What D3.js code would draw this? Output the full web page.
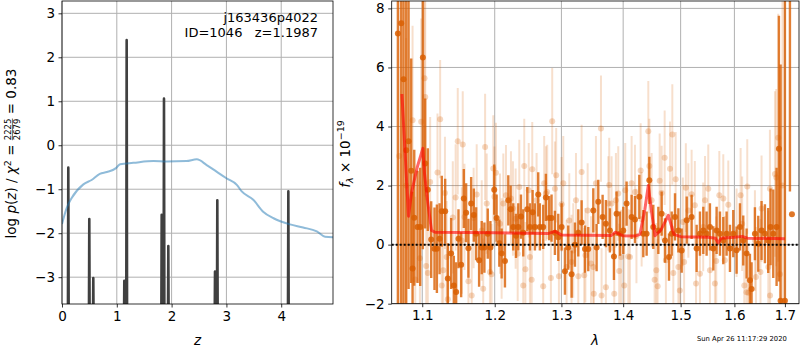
<!DOCTYPE html>
<html>
<head>
<meta charset="utf-8">
<script src="https://cdn.jsdelivr.net/npm/d3@7"></script>
<style>
  body { margin: 0; background: #fff; }
  svg { display: block; font-family: "DejaVu Sans", sans-serif; }
</style>
</head>
<body>
<svg id="chart" width="800" height="350"></svg>
<script>
// ---- left panel: log p(z) spikes and chi2 curve ----
const peakZ = [0.115, 0.498, 0.571, 1.137, 1.18, 1.819, 1.861, 1.94, 2.792, 2.834, 4.13];
const peakLogP = [-0.51, -1.68, -3.02, -3.08, 2.39, -1.58, 1.06, -2.29, -2.87, -1.25, -1.05];

const chiZ = [0, 0.085, 0.177, 0.39, 0.54, 0.69, 0.82, 0.985, 1.06, 1.30, 1.67, 1.91, 2.27, 2.46,
  2.64, 2.82, 3.0, 3.19, 3.28, 3.49, 3.67, 3.86, 4.16, 4.40, 4.65, 4.80, 4.95];
const chiLog = [-1.79, -1.43, -1.2, -0.89, -0.79, -0.65, -0.61, -0.52, -0.43, -0.40, -0.36, -0.37,
  -0.36, -0.32, -0.45, -0.60, -0.75, -0.90, -1.05, -1.24, -1.51, -1.66, -1.80, -1.87, -1.96, -2.08, -2.09];

const zTicks = [0, 1, 2, 3, 4];
const logTicks = [-3, -2, -1, 0, 1, 2, 3];

// ---- right panel: spectrum ----
const darkLam = [1.0683, 1.0726, 1.0756, 1.0790, 1.0821, 1.0855, 1.0873, 1.0895, 1.0938, 1.0973,
  1.1008, 1.1039, 1.1074, 1.1119, 1.1163, 1.1195, 1.1231, 1.1261, 1.1307, 1.1343,
  1.1388, 1.1425, 1.1457, 1.1489, 1.1526, 1.1563, 1.1595, 1.1627, 1.1665, 1.1702,
  1.1735, 1.1777, 1.1814, 1.1852, 1.1900, 1.1938,
  1.1993, 1.2027, 1.2066, 1.2100, 1.2148, 1.2197, 1.2231, 1.2270, 1.2310, 1.2344,
  1.2384, 1.2418, 1.2478, 1.2518, 1.2558, 1.2593, 1.2643, 1.2668, 1.2719, 1.2760,
  1.2811, 1.2847, 1.2899, 1.2951, 1.3003, 1.3055, 1.3107, 1.3160, 1.3213, 1.3266,
  1.3319, 1.3373, 1.3426,
  1.3507, 1.3561, 1.3588, 1.3659, 1.3713, 1.3779, 1.3846, 1.3890, 1.3946, 1.4002,
  1.4058, 1.4143, 1.4200, 1.4274, 1.4343, 1.4400, 1.4447, 1.4516, 1.4604, 1.4662,
  1.4721, 1.4792, 1.4840, 1.4899, 1.4959, 1.5019, 1.5110,
  1.5199, 1.5291, 1.5352, 1.5414, 1.5475, 1.5537, 1.5600, 1.5662, 1.5725, 1.5788,
  1.5851, 1.5915, 1.5978, 1.6042, 1.6107, 1.6171, 1.6236, 1.6301, 1.6333, 1.6399,
  1.6465, 1.6530, 1.6597, 1.6663, 1.6710, 1.6764, 1.6831, 1.6878, 1.6912, 1.7000,
  1.7103, 1.7144];
const darkFlux = [7.15, 7.5, 5.6, 3.2, 3.5, 2.5, -0.81, 0.91, 0.6, 0.6,
  6.34, 2.75, 1.86, 0.17, -0.14, -0.14, 0.2, 1.13, 1.13, -1.15,
  -0.3, -1.38, -1.6, 0.2, -0.68, 1.56, 1.08, -0.12, 1.39, 1.0,
  0.37, -0.53, -0.1, -0.1, 0.37, -0.1,
  1.86, 0.9, 0.05, -0.3, -0.55, 1.5, 1.2, 0.6, 0.3, 0.6,
  0.95, 0.4, 1.2, 0.6, 1.1, 0.6, 1.7, 0.6, 0.6, 1.6,
  0.9, 0.9, 0.4, 0.25, 0.6, -0.9, -0.1, -1.0, 0.0, 0.4,
  0.75, -0.15, -0.15,
  1.16, -0.1, 1.45, 0.94, 0.71, 0.48, -0.4, 1.05, 0.37, 0.48,
  1.39, 0.94, 0.85, 1.62, 0.37, 0.37, 2.18, 0.6, 0.48, 1.05,
  0.14, -0.42, 0.37, 0.94, 0.48, -0.2, 0.83,
  0.94, -0.13, 0.37, 0.48, 0.37, 0.6, -0.13, 0.48, 0.37, 0.14,
  0.37, -0.13, 0.37, -0.19, 0.6, 0.14, -0.3, -1.21, -1.5, 0.37,
  0.03, 0.48, 0.37, 0.14, 0.6, 0.37, 0.6, 3.25, -1.9, -1.9,
  10.0, 1.03];
const darkErr = [12, 12, 9, 6, 5, 3.8, 2.6, 2.3, 1.9, 2.0,
  6.5, 2.2, 1.4, 1.3, 1.4, 1.5, 1.2, 1.2, 1.1, 1.2,
  1.2, 1.0, 1.0, 1.0, 1.1, 1.0, 1.0, 1.0, 0.9, 0.9,
  0.9, 0.9, 0.9, 0.85, 0.85, 0.9,
  0.85, 0.8, 0.8, 0.85, 0.9, 0.85, 0.8, 0.8, 0.75, 0.8,
  0.75, 0.8, 0.75, 0.8, 0.75, 0.8, 0.75, 0.8, 0.75, 0.8,
  0.75, 0.8, 0.75, 0.8, 0.8, 0.8, 0.75, 0.8, 0.75, 0.8,
  0.75, 0.8, 0.75,
  0.75, 0.8, 0.75, 0.75, 0.8, 0.75, 0.8, 0.75, 0.75, 0.8,
  0.75, 0.75, 0.8, 0.75, 0.8, 0.75, 0.8, 0.75, 0.8, 0.75,
  0.75, 0.8, 0.75, 0.8, 0.75, 0.75, 0.8,
  0.75, 0.8, 0.75, 0.8, 0.75, 0.8, 0.75, 0.8, 0.75, 0.8,
  0.75, 0.8, 0.8, 0.8, 0.8, 0.85, 0.85, 0.9, 0.9, 0.9,
  0.95, 1.0, 1.0, 1.1, 1.3, 1.5, 2.0, 4.5, 8, 12,
  8.2, 0];

const lightLam = [1.0700, 1.0790, 1.0873, 1.0908, 1.0969, 1.0986, 1.1030, 1.1040, 1.1052, 1.1074,
  1.1105, 1.1203, 1.1239, 1.1261, 1.1281, 1.1304, 1.1327, 1.1343, 1.1411, 1.1450,
  1.1479, 1.1535, 1.1548, 1.1572, 1.1627, 1.1673, 1.1700, 1.1743, 1.1814, 1.1835,
  1.1862, 1.1885, 1.1931, 1.1955, 1.1979, 1.1995, 1.2017, 1.2076, 1.2100, 1.2124,
  1.2163, 1.2236, 1.2265, 1.2305, 1.2335, 1.2359, 1.2418, 1.2433, 1.2450, 1.2500,
  1.2518, 1.2544, 1.2553, 1.2618, 1.2719, 1.2734, 1.2760, 1.2780, 1.2837, 1.2857,
  1.2899, 1.2919, 1.2961, 1.3003, 1.3029, 1.3081, 1.3123, 1.3159, 1.3186, 1.3229,
  1.3266, 1.3319, 1.3361, 1.3380, 1.3416, 1.3470, 1.3507, 1.3515, 1.3550, 1.3632,
  1.3642, 1.3713, 1.3753, 1.3768, 1.3807, 1.3851, 1.3879, 1.3918, 1.3934, 1.3965,
  1.4018, 1.4035, 1.4086, 1.4114, 1.4143, 1.4200, 1.4225, 1.4297, 1.4314, 1.4429,
  1.4447, 1.4487, 1.4539, 1.4568, 1.4592, 1.4627, 1.4662, 1.4715, 1.4737, 1.4810,
  1.4851, 1.4869, 1.4911, 1.4959, 1.4985, 1.5040, 1.5063, 1.5094, 1.5140, 1.5199,
  1.5258, 1.5280, 1.5352, 1.5412, 1.5445, 1.5506, 1.5537, 1.5630, 1.5655, 1.5713,
  1.5788, 1.5817, 1.5883, 1.6042, 1.6120, 1.6150, 1.6191, 1.6233, 1.6249, 1.6269,
  1.6399, 1.6420, 1.6509, 1.6530, 1.6665, 1.6697, 1.6700, 1.6798, 1.6825, 1.6865,
  1.6899, 1.6950];
const lightFlux = [3.0, 2.0, 4.21, -1.18, -0.46, 4.16, 5.63, 5.0, -0.72, -0.96,
  2.12, 2.44, 4.25, -1.38, -0.87, 1.75, -0.42, -1.85, 0.92, 1.6,
  3.5, 0.14, 3.39, 0.94, -1.24, -1.72, 0.9, 1.7, 0.48, -1.49,
  3.31, 1.39, -0.93, -1.0, 2.58, 1.62, 2.43, 0.71, -0.13, 1.39,
  1.67, 1.56, 1.22, 0.88, -0.31, 1.95, -1.38, 2.66, -0.83, 1.84,
  -0.42, -1.19, 2.55, 1.5, -1.41, 2.08, 1.73, 1.78, -1.13, 4.18,
  1.89, 2.35, -1.07, 1.37, 2.08, -0.76, 0.82, -0.59, -0.2, 1.5,
  -1.07, 2.46, -1.04, -0.36, 1.16, -0.64, -0.76, -1.66, 2.08, 3.93,
  -1.72, -1.44, 1.39, 2.02, 1.39, -1.66, 1.5, 1.73, -0.89, -0.42,
  -1.38, 1.84, -0.4, -0.42, 2.08, 1.78, 0.29, 2.51, 0.86, 3.84,
  2.66, 1.5, -1.19, -0.87, -1.41, 2.16, 1.75, 2.94, -0.53, 2.57,
  3.73, -0.96, 2.21, -0.76, -1.55, 0.77, -0.59, 1.93, 1.16, 1.71,
  1.33, -1.32, -0.99, 0.6, 1.5, 1.89, -0.87, -1.32, -0.55, 1.67,
  1.56, -0.53, 1.35, 0.4, 1.67, 0.71, -1.38, -1.61, 1.97, -1.63,
  0.14, -1.1, -0.93, 1.22, -0.76, 1.89, -1.72, 2.39, 2.27, 3.62,
  -1.0, 2.0];
const lightErr = [6, 5, 3.2, 2.8, 2.6, 3.5, 4.0, 3.5, 2.4, 2.4,
  2.2, 2.0, 2.0, 1.9, 1.9, 1.9, 1.9, 1.8, 1.9, 1.8,
  1.8, 1.8, 1.8, 1.8, 1.7, 1.7, 1.7, 1.7, 1.7, 1.7,
  1.8, 1.7, 1.7, 1.7, 1.8, 1.7, 1.7, 1.7, 1.7, 1.7,
  1.7, 1.6, 1.6, 1.7, 1.6, 1.6, 1.6, 1.6, 1.6, 1.6,
  1.6, 1.6, 1.6, 1.6, 1.6, 1.6, 1.6, 1.6, 1.6, 1.8,
  1.6, 1.6, 1.6, 1.6, 1.6, 1.6, 1.6, 1.6, 1.6, 1.6,
  1.6, 1.6, 1.6, 1.6, 1.6, 1.6, 1.6, 1.6, 1.6, 1.8,
  1.6, 1.6, 1.6, 1.6, 1.6, 1.6, 1.6, 1.6, 1.6, 1.6,
  1.6, 1.6, 1.6, 1.6, 1.6, 1.6, 1.6, 1.6, 1.6, 1.7,
  1.6, 1.6, 1.6, 1.6, 1.6, 1.6, 1.6, 1.6, 1.6, 1.6,
  1.7, 1.6, 1.6, 1.6, 1.5, 1.5, 1.5, 1.5, 1.6, 1.5,
  1.5, 1.5, 1.5, 1.5, 1.5, 1.5, 1.5, 1.5, 1.5, 1.5,
  1.5, 1.5, 1.5, 1.5, 1.6, 1.6, 1.6, 1.6, 1.6, 1.6,
  1.7, 1.7, 1.8, 1.8, 1.9, 2.0, 2.0, 2.8, 3.0, 4.2,
  5, 8];

const modelLam = [1.0735, 1.0820, 1.0860, 1.0935, 1.1008, 1.1030, 1.1070, 1.1123, 1.1170, 1.2000,
  1.2800, 1.2900, 1.3000, 1.3800, 1.3870, 1.4000, 1.4200, 1.4285, 1.4370, 1.4429,
  1.4480, 1.4546, 1.4650, 1.4780, 1.4880, 1.5000, 1.5500, 1.5640, 1.5690, 1.5750,
  1.6000, 1.6150, 1.6250, 1.7000];
const modelFlux = [5.1, 0.96, 1.77, 2.63, 3.26, 2.4, 1.5, 0.48, 0.42, 0.4,
  0.38, 0.45, 0.33, 0.31, 0.42, 0.3, 0.29, 0.35, 1.2, 2.0,
  1.2, 0.3, 0.5, 0.99, 0.35, 0.27, 0.25, 0.22, 0.06, 0.22,
  0.25, 0.28, 0.22, 0.2];

const lamTicks = [1.1, 1.2, 1.3, 1.4, 1.5, 1.6, 1.7];
const fluxTicks = [-2, 0, 2, 4, 6, 8];

const svg = d3.select('#chart');
const gridColor = '#b0b0b0';
const orange = '#d95f02';
const minus = (s) => s.replace('-', '\u2212');

function grid(g, x, y, xTicks, yTicks, box) {
  g.append('g').selectAll('line').data(xTicks).join('line')
    .attr('x1', (d) => x(d)).attr('x2', (d) => x(d))
    .attr('y1', box.top).attr('y2', box.bottom)
    .attr('stroke', gridColor).attr('stroke-width', 1);
  g.append('g').selectAll('line').data(yTicks).join('line')
    .attr('y1', (d) => y(d)).attr('y2', (d) => y(d))
    .attr('x1', box.left).attr('x2', box.right)
    .attr('stroke', gridColor).attr('stroke-width', 1);
}

function axes(g, x, y, xTicks, yTicks, xFmt, yFmt, box) {
  const xa = g.append('g').attr('transform', `translate(0,${box.bottom})`)
    .call(d3.axisBottom(x).tickValues(xTicks).tickFormat(xFmt).tickSize(3.5).tickPadding(3.5).tickSizeOuter(0));
  const ya = g.append('g').attr('transform', `translate(${box.left},0)`)
    .call(d3.axisLeft(y).tickValues(yTicks).tickFormat(yFmt).tickSize(3.5).tickPadding(3.5).tickSizeOuter(0));
  [xa, ya].forEach((a) => {
    a.select('.domain').remove();
    a.selectAll('line').attr('stroke', '#000').attr('stroke-width', 0.8);
    a.selectAll('text').attr('font-size', 13.5).attr('fill', '#000')
      .attr('font-family', '"DejaVu Sans", sans-serif');
  });
  g.append('rect')
    .attr('x', box.left).attr('y', box.top)
    .attr('width', box.right - box.left).attr('height', box.bottom - box.top)
    .attr('fill', 'none').attr('stroke', '#000').attr('stroke-width', 0.8);
}

// ================= left panel =================
const L = { left: 62, right: 333, top: 1, bottom: 304 };
const xz = d3.scaleLinear().domain([0, 4.945]).range([L.left, L.right]);
const yp = d3.scaleLinear().domain([-3.61, 3.28]).range([L.bottom, L.top]);

const gl = svg.append('g');
svg.append('clipPath').attr('id', 'clipL').append('rect')
  .attr('x', L.left).attr('y', L.top).attr('width', L.right - L.left).attr('height', L.bottom - L.top);
grid(gl, xz, yp, zTicks, logTicks, L);

const plotL = gl.append('g').attr('clip-path', 'url(#clipL)');
const spikePts = [];
peakZ.forEach((z, i) => {
  spikePts.push([z - 0.008, -4.5], [z, peakLogP[i]], [z + 0.008, -4.5]);
});
plotL.append('path')
  .attr('d', d3.line().x((d) => xz(d[0])).y((d) => yp(d[1]))(spikePts))
  .attr('fill', 'none').attr('stroke', '#404040').attr('stroke-width', 2.6)
  .attr('stroke-linejoin', 'round');

plotL.append('path')
  .attr('d', d3.line().curve(d3.curveMonotoneX).x((d, i) => xz(chiZ[i])).y((d) => yp(d))(chiLog))
  .attr('fill', 'none').attr('stroke', '#1f77b4').attr('stroke-opacity', 0.5).attr('stroke-width', 2);

axes(gl, xz, yp, zTicks, logTicks, d3.format('d'), (d) => minus(String(d)), L);

gl.append('text').attr('x', 318).attr('y', 22).attr('text-anchor', 'end')
  .attr('font-size', 13).text('j163436p4022');
gl.append('text').attr('x', 318).attr('y', 37).attr('text-anchor', 'end')
  .attr('font-size', 13).style('white-space', 'pre').text('ID=1046   z=1.1987');

gl.append('text').attr('x', (L.left + L.right) / 2).attr('y', 345).attr('text-anchor', 'middle')
  .attr('font-size', 13.5).attr('font-style', 'italic').text('z');

// rotated y label with a stacked fraction
const ylab = gl.append('g');
const p1 = ylab.append('text').attr('font-size', 13.5).style('white-space', 'pre');
p1.append('tspan').text('log ');
p1.append('tspan').attr('font-style', 'italic').text('p');
p1.append('tspan').text('(');
p1.append('tspan').attr('font-style', 'italic').text('z');
p1.append('tspan').text(') / ');
p1.append('tspan').attr('font-style', 'italic').text('\u03c7');
p1.append('tspan').attr('font-size', 9.5).attr('dy', -5).text('2');
p1.append('tspan').attr('dy', 5).text(' = ');
const w1 = p1.node().getComputedTextLength();
const num = ylab.append('text').attr('font-size', 8.5).attr('x', w1).attr('y', -5).text('2225');
const den = ylab.append('text').attr('font-size', 8.5).attr('x', w1).attr('y', 3.5).text('2679');
const wf = Math.max(num.node().getComputedTextLength(), den.node().getComputedTextLength());
ylab.append('line').attr('x1', w1).attr('x2', w1 + wf).attr('y1', -3.6).attr('y2', -3.6)
  .attr('stroke', '#000').attr('stroke-width', 0.6);
const p3 = ylab.append('text').attr('font-size', 13.5).attr('x', w1 + wf)
  .style('white-space', 'pre').text(' = 0.83');
const wTot = w1 + wf + p3.node().getComputedTextLength();
ylab.attr('transform', `translate(16,${153.5 + wTot / 2}) rotate(-90)`);

// ================= right panel =================
const R = { left: 391.7, right: 799, top: 1, bottom: 303.7 };
const xl = d3.scaleLog().domain([1.0604, 1.729]).range([R.left, R.right]);
const yf = d3.scaleLinear().domain([-2, 8.25]).range([R.bottom, R.top]);

const gr = svg.append('g');
svg.append('clipPath').attr('id', 'clipR').append('rect')
  .attr('x', R.left).attr('y', R.top).attr('width', R.right - R.left).attr('height', R.bottom - R.top);
grid(gr, xl, yf, lamTicks, fluxTicks, R);

const plotR = gr.append('g').attr('clip-path', 'url(#clipR)');

// light (second grism) points
const light = lightLam.map((l, i) => ({ l, f: lightFlux[i], e: lightErr[i] }));
plotR.append('g').selectAll('line').data(light).join('line')
  .attr('x1', (d) => xl(d.l)).attr('x2', (d) => xl(d.l))
  .attr('y1', (d) => yf(d.f - d.e)).attr('y2', (d) => yf(d.f + d.e))
  .attr('stroke', orange).attr('stroke-opacity', 0.2).attr('stroke-width', 2);
plotR.append('g').selectAll('circle').data(light).join('circle')
  .attr('cx', (d) => xl(d.l)).attr('cy', (d) => yf(d.f)).attr('r', 3)
  .attr('fill', orange).attr('fill-opacity', 0.25);

// dark (primary) points
const dark = darkLam.map((l, i) => ({ l, f: darkFlux[i], e: darkErr[i] }));
plotR.append('g').selectAll('line').data(dark.filter((d) => d.e > 0)).join('line')
  .attr('x1', (d) => xl(d.l)).attr('x2', (d) => xl(d.l))
  .attr('y1', (d) => yf(d.f - d.e)).attr('y2', (d) => yf(d.f + d.e))
  .attr('stroke', orange).attr('stroke-opacity', 0.8).attr('stroke-width', 2.4);
plotR.append('g').selectAll('circle').data(dark).join('circle')
  .attr('cx', (d) => xl(d.l)).attr('cy', (d) => yf(d.f)).attr('r', 3)
  .attr('fill', orange).attr('fill-opacity', 0.85);

// model
plotR.append('path')
  .attr('d', d3.line().x((d, i) => xl(modelLam[i])).y((d) => yf(d))(modelFlux))
  .attr('fill', 'none').attr('stroke', '#ff0000').attr('stroke-opacity', 0.6)
  .attr('stroke-width', 3).attr('stroke-linejoin', 'round');

// zero line
plotR.append('line')
  .attr('x1', R.left).attr('x2', R.right).attr('y1', yf(0)).attr('y2', yf(0))
  .attr('stroke', '#000').attr('stroke-width', 2).attr('stroke-dasharray', '2,2');

axes(gr, xl, yf, lamTicks, fluxTicks, d3.format('.1f'), (d) => minus(String(d)), R);

gr.append('text').attr('x', 595).attr('y', 345).attr('text-anchor', 'middle')
  .attr('font-size', 13.5).attr('font-style', 'italic').text('\u03bb');

const rlab = gr.append('text').attr('font-size', 13.5).attr('text-anchor', 'middle')
  .attr('transform', 'translate(350,154) rotate(-90)').style('white-space', 'pre');
rlab.append('tspan').attr('font-style', 'italic').text('f');
rlab.append('tspan').attr('font-size', 9.5).attr('font-style', 'italic').attr('dy', 3).text('\u03bb');
rlab.append('tspan').attr('dy', -3).text(' \u00d7 10');
rlab.append('tspan').attr('font-size', 9.5).attr('dy', -6).text('\u221219');

svg.append('text').attr('x', 697).attr('y', 341).attr('font-size', 6.8)
  .text('Sun Apr 26 11:17:29 2020');
</script>
</body>
</html>
